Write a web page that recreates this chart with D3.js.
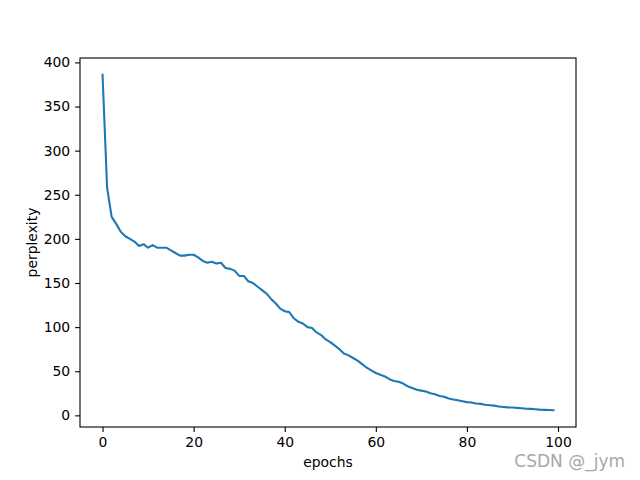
<!DOCTYPE html>
<html><head><meta charset="utf-8">
<script src="https://cdn.jsdelivr.net/npm/d3@7"></script>
<style>body{margin:0;background:#fff}svg{display:block}text{font-family:"DejaVu Sans",sans-serif}</style>
</head><body><svg id="c" width="640" height="480"></svg>
<script>
const perplexity = [386,258,225,217,208,203,200,197,192,194,190,193,190,190,190,187,184,181,181,182,182,179,175,173,174,172,173,167,166,164,158,158,152,150,146,142,138,132,127,121,118,117,110,106,104,100,99,94,91,86,83,79,75,70,68,65,62,58,54,51,48,46,44,41,39,38,36,33,31,29,28,27,25,24,22,21,19,18,17,16,15,14.5,13.5,13,12,11.5,11,10,9.5,9,8.8,8.5,8,7.5,7.3,7,6.5,6.2,6,5.8];
const epochs = perplexity.map((_, i) => i);
const xTicks = [0,20,40,60,80,100];
const yTicks = [0,50,100,150,200,250,300,350,400];

const svg = d3.select("#c");
const L=80,R=576,T=58,B=427;
const xmin=d3.min(epochs),xmax=d3.max(epochs),ymin=d3.min(perplexity),ymax=d3.max(perplexity);
const xm=(xmax-xmin)*0.05, ym=(ymax-ymin)*0.05;
const x=d3.scaleLinear().domain([xmin-xm,xmax+xm]).range([L,R]);
const y=d3.scaleLinear().domain([ymin-ym,ymax+ym]).range([B,T]);

const fs="13.9px";
const xa=svg.append("g").attr("transform",`translate(0,${B})`)
  .call(d3.axisBottom(x).tickValues(xTicks).tickSize(4.9).tickPadding(4.9).tickFormat(d3.format("d")));
const ya=svg.append("g").attr("transform",`translate(${L},0)`)
  .call(d3.axisLeft(y).tickValues(yTicks).tickSize(4.9).tickPadding(4.9).tickFormat(d3.format("d")));
[xa,ya].forEach(a=>{a.select(".domain").remove();a.selectAll("line").attr("stroke","#000").attr("stroke-width",1.1);
  a.selectAll("text").attr("font-size",fs).attr("fill","#000").attr("font-family","DejaVu Sans");});

svg.append("path").datum(epochs.map((e,i)=>[e,perplexity[i]]))
  .attr("fill","none").attr("stroke","#1f77b4").attr("stroke-width",2.08)
  .attr("stroke-linejoin","round").attr("stroke-linecap","square")
  .attr("d",d3.line().x(d=>x(d[0])).y(d=>y(d[1])));

svg.append("rect").attr("x",L).attr("y",T).attr("width",R-L).attr("height",B-T)
  .attr("fill","none").attr("stroke","#000").attr("stroke-width",1.1);

svg.append("text").attr("x",(L+R)/2).attr("y",467).attr("text-anchor","middle").attr("font-size",fs).text("epochs");
svg.append("text").attr("transform",`translate(37,${(T+B)/2}) rotate(-90)`).attr("text-anchor","middle").attr("font-size",fs).text("perplexity");
svg.append("text").attr("x",625).attr("y",467).attr("text-anchor","end").attr("font-size","17px")
  .attr("font-family","Liberation Sans, Arial, sans-serif").attr("fill","#a8a8a8").text("CSDN @_jym");
</script></body></html>
